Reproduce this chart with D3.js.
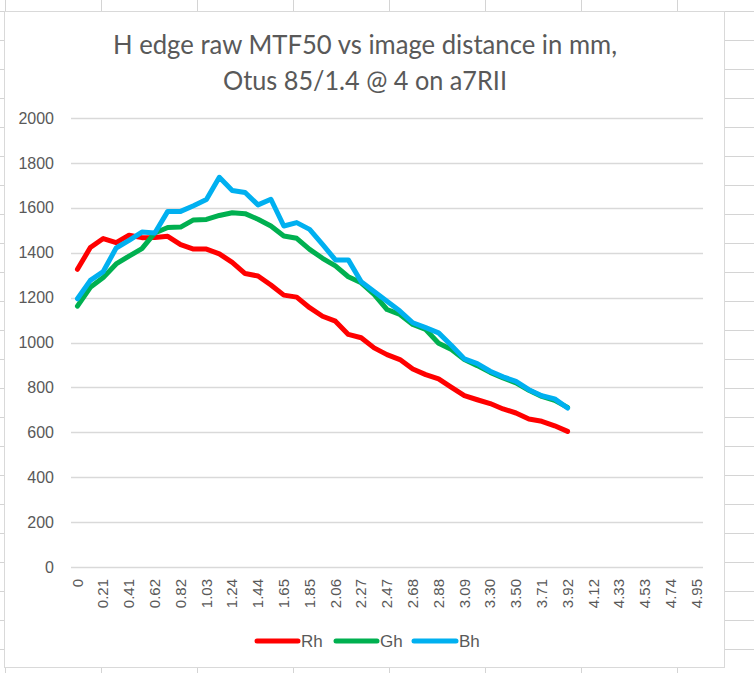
<!DOCTYPE html>
<html>
<head>
<meta charset="utf-8">
<script src="https://cdn.jsdelivr.net/npm/d3@7/dist/d3.min.js"></script>
<style>
  html, body { margin: 0; padding: 0; background: #ffffff; }
  svg { display: block; }
</style>
</head>
<body>
<svg id="chart" width="754" height="673"></svg>
<script>
// ---- data ----
const categories = ["0","0.10","0.21","0.31","0.41","0.52","0.62","0.72","0.82","0.93",
  "1.03","1.13","1.24","1.34","1.44","1.55","1.65","1.75","1.85","1.96",
  "2.06","2.16","2.27","2.37","2.47","2.58","2.68","2.78","2.88","2.99",
  "3.09","3.19","3.30","3.40","3.50","3.61","3.71","3.81","3.92","4.02",
  "4.12","4.22","4.33","4.43","4.53","4.64","4.74","4.84","4.95"];

const rhValues = [1326,1423,1463,1445,1478,1467,1468,1473,1436,1416,
  1416,1395,1357,1307,1296,1256,1211,1202,1155,1117,
  1095,1036,1021,976,946,924,882,857,838,800,
  763,745,728,704,686,659,649,629,604];

const ghValues = [1162,1246,1289,1350,1385,1418,1488,1512,1514,1546,
  1548,1566,1578,1574,1549,1519,1474,1464,1415,1375,
  1341,1293,1266,1214,1147,1125,1080,1058,997,969,
  924,897,867,842,820,787,760,742,711];

const bhValues = [1195,1277,1316,1421,1455,1492,1488,1584,1584,1609,
  1637,1736,1677,1668,1613,1638,1519,1534,1504,1437,
  1368,1368,1271,1227,1184,1140,1088,1066,1043,987,
  927,906,872,847,827,790,763,749,708];

const seriesNames = ["Rh","Gh","Bh"];
const seriesColors = ["#FF0000","#00B050","#00B0F0"];
const yTicks = [0,200,400,600,800,1000,1200,1400,1600,1800,2000];
const xTickLabels = categories.filter((d, i) => i % 2 === 0);
const titleLines = ["H edge raw MTF50 vs image distance in mm,", "Otus 85/1.4 @ 4 on a7RII"];

// ---- drawing ----
const W = 754, H = 673;
const svg = d3.select("#chart");
const textColor = "#595959";
const font = "'Liberation Sans', Arial, sans-serif";

// spreadsheet cell grid behind the chart
const sheet = svg.append("g");
for (let yy = 11; yy < H; yy += 29) {
  sheet.append("line").attr("x1", 0).attr("x2", W).attr("y1", yy + 0.5).attr("y2", yy + 0.5)
    .attr("stroke", "#d4d4d4").attr("stroke-width", 1);
}
for (let xx = 5; xx < W; xx += 96) {
  sheet.append("line").attr("y1", 0).attr("y2", H).attr("x1", xx + 0.5).attr("x2", xx + 0.5)
    .attr("stroke", "#d4d4d4").attr("stroke-width", 1);
}

// chart area
svg.append("rect").attr("x", 4.5).attr("y", 11.5).attr("width", 720).attr("height", 656)
  .attr("fill", "#ffffff").attr("stroke", "#d9d9d9").attr("stroke-width", 1);

// scales
const x = d3.scaleBand().domain(categories).range([71, 703]);
const cx = d => x(d) + x.bandwidth() / 2;
const y = d3.scaleLinear().domain([0, 2000]).range([567, 118]);

// gridlines
svg.append("g").selectAll("line").data(yTicks.filter(d => d > 0)).join("line")
  .attr("x1", 71).attr("x2", 703)
  .attr("y1", d => Math.round(y(d)) + 0.5).attr("y2", d => Math.round(y(d)) + 0.5)
  .attr("stroke", "#d9d9d9").attr("stroke-width", 1.5);

// y axis
const yAxis = svg.append("g").attr("transform", "translate(58,0)")
  .call(d3.axisLeft(y).tickValues(yTicks).tickSize(0).tickPadding(0).tickFormat(d3.format("d")));
yAxis.select(".domain").remove();
yAxis.selectAll("text").attr("fill", textColor).style("font-family", font).style("font-size", "16px")
  .attr("dx", "-4");

// x axis
const xAxis = svg.append("g").attr("transform", "translate(0," + Math.round(y(0)) + ")")
  .call(d3.axisBottom(x).tickValues(xTickLabels).tickSize(0).tickPadding(0));
xAxis.select(".domain").attr("stroke", "#d9d9d9").attr("stroke-width", 1.5)
  .attr("d", "M71,0.5H703");
xAxis.selectAll(".tick text")
  .attr("fill", textColor).style("font-family", font).style("font-size", "15px")
  .attr("text-anchor", "end")
  .attr("transform", "rotate(-90)")
  .attr("x", -12).attr("y", 0).attr("dy", "0.35em");

// lines
const allSeries = [rhValues, ghValues, bhValues];
const line = d3.line().x((d, i) => cx(categories[i])).y(d => y(d));
svg.append("g").selectAll("path").data(allSeries).join("path")
  .attr("d", d => line(d))
  .attr("fill", "none")
  .attr("stroke", (d, i) => seriesColors[i])
  .attr("stroke-width", 5)
  .attr("stroke-linejoin", "round")
  .attr("stroke-linecap", "round");

// title
const titleFont = "Lato, 'Open Sans', sans-serif";
const titleTargets = [504, 284];
const titleBaselines = [54, 90];
titleLines.forEach((t, i) => {
  svg.append("text").attr("x", 365).attr("y", titleBaselines[i])
    .attr("text-anchor", "middle")
    .attr("textLength", titleTargets[i]).attr("lengthAdjust", "spacingAndGlyphs")
    .attr("fill", textColor).style("font-family", titleFont).style("font-weight", 400)
    .style("font-size", "26.5px").text(t);
});

// legend
const legendItems = [
  {x1: 257, x2: 298, tx: 301},
  {x1: 336, x2: 377, tx: 380},
  {x1: 414, x2: 456, tx: 459}
];
const legY = 641;
const leg = svg.append("g");
seriesNames.forEach((n, i) => {
  const it = legendItems[i];
  leg.append("line").attr("x1", it.x1).attr("x2", it.x2).attr("y1", legY).attr("y2", legY)
    .attr("stroke", seriesColors[i]).attr("stroke-width", 5).attr("stroke-linecap", "round");
  leg.append("text").attr("x", it.tx).attr("y", legY).attr("dy", "0.35em")
    .attr("fill", textColor).style("font-family", font).style("font-size", "17px").text(n);
});
</script>
</body>
</html>
